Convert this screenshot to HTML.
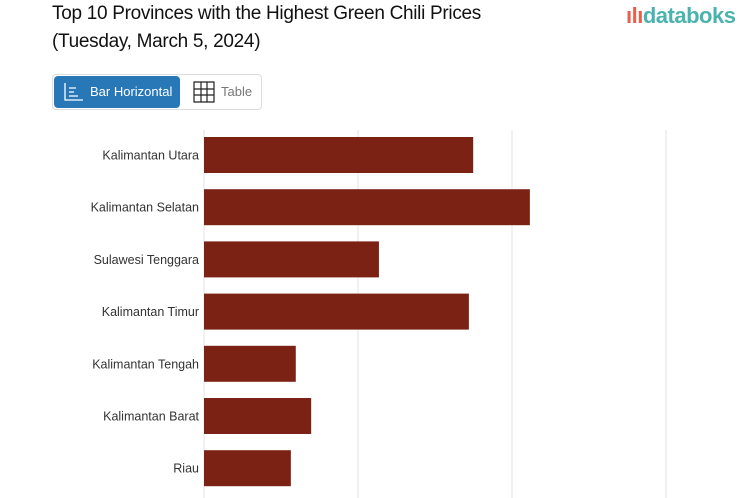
<!DOCTYPE html>
<html><head><meta charset="utf-8"><style>
body{margin:0;width:753px;height:498px;background:#fff;overflow:hidden;font-family:"Liberation Sans",sans-serif;position:relative}
.t{position:absolute;left:52px;font-size:19px;color:#111;letter-spacing:-0.3px}
.logo{position:absolute;left:626px;top:3px;font-size:22px;color:#4ab3ad;font-weight:bold;letter-spacing:-0.5px}
.btns{position:absolute;left:52px;top:74px;width:208px;height:34px;border:1px solid #ddd;border-radius:4px}
.b1{position:absolute;left:1px;top:1px;width:126px;height:32px;background:#2878b8;border-radius:4px;color:#fff;font-size:13px;line-height:32px;text-indent:36px}
.b2{position:absolute;left:140px;top:0;font-size:13px;line-height:34px;color:#777;text-indent:28px}
</style></head><body>
<div class="t" style="top:3px">Top 10 Provinces with the Highest Green Chili Prices</div>
<div class="t" style="top:31px">(Tuesday, March 5, 2024)</div>
<div class="logo"><span style="color:#e8604c">ılı</span>databoks</div>
<div class="btns">
<div class="b1"><svg style="position:absolute;left:10px;top:7px" width="20" height="18"><path d="M1 0V17H19M5 5H12M5 9H10M5 13H14" stroke="#fff" fill="none" stroke-width="1.3"/></svg>Bar Horizontal</div>
<div class="b2"><svg style="position:absolute;left:0;top:6px" width="22" height="22"><path d="M1 1H21V21H1ZM1 8H21M1 14H21M8 1V21M14 1V21" stroke="#222" fill="none" stroke-width="1.2"/></svg>Table</div>
</div>
<svg id="c" width="753" height="498" style="position:absolute;left:0;top:0"></svg>
<script>
const categories=["Kalimantan Utara","Kalimantan Selatan","Sulawesi Tenggara","Kalimantan Timur","Kalimantan Tengah","Kalimantan Barat","Riau"];
const values=[43700,52900,28400,43000,14900,17400,14100];
const gridTicks=[0,25000,50000,75000];
const svg=document.getElementById('c');const NS='http://www.w3.org/2000/svg';
const x=v=>204+v*154/25000;const y=i=>155+i*52.2;
gridTicks.forEach(t=>{const l=document.createElementNS(NS,'line');


l.setAttribute('x1',x(t));l.setAttribute('x2',x(t));l.setAttribute('y1',130);l.setAttribute('y2',498);l.setAttribute('stroke','#e3e3e3');svg.appendChild(l);});
categories.forEach((c,i)=>{const r=document.createElementNS(NS,'rect');


r.setAttribute('x',x(0));r.setAttribute('y',y(i)-18);r.setAttribute('width',x(values[i])-x(0));r.setAttribute('height',36);r.setAttribute('fill','#7b2215');svg.appendChild(r);
const t=document.createElementNS(NS,'text');


t.setAttribute('x',199);t.setAttribute('y',y(i)+4.5);t.setAttribute('text-anchor','end');t.setAttribute('font-size','12.5');t.setAttribute('fill','#333');t.setAttribute('font-family','Liberation Sans, sans-serif');t.textContent=c;svg.appendChild(t);});
</script>
</body></html>
